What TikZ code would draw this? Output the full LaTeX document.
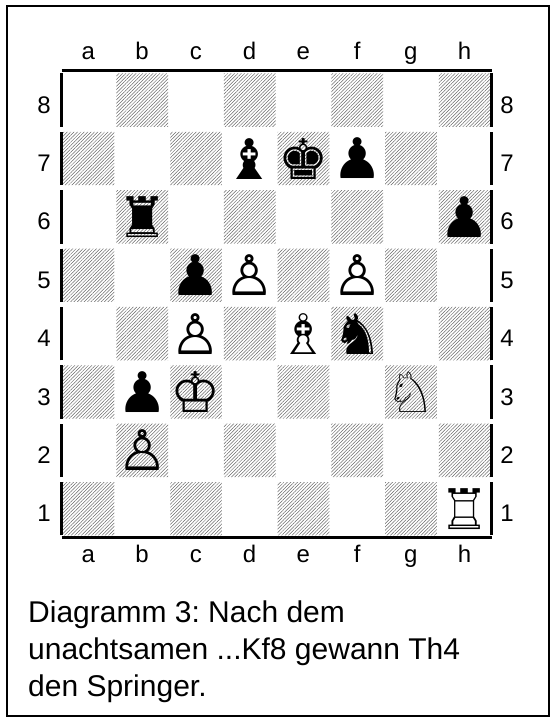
\documentclass[tikz,border=0pt]{standalone}
\usepackage{fontspec}
\setmainfont{Liberation Sans}
\newfontfamily\chessfont{DejaVu Sans}
\usepackage{xcolor}
\usepackage{tikz}
\usetikzlibrary{patterns.meta}
\definecolor{boardline}{RGB}{0,0,0}
\definecolor{hatchgray}{RGB}{105,105,105}
\frenchspacing
\tikzset{
  frm/.style  ={draw=boardline, line width=3pt, line cap=butt},
  box/.style  ={draw=boardline, line width=2pt},
  dsq/.style  ={pattern={Lines[angle=45,distance=2.4pt,line width=0.5pt]}, pattern color=hatchgray},
  lab/.style  ={font=\fontsize{24}{28}\selectfont, inner sep=0pt, anchor=base},
  pc/.style   ={font=\chessfont\fontsize{56}{56}\selectfont, inner sep=0pt},
  captxt/.style ={font=\fontsize{30}{36.7}\selectfont, inner sep=0pt, align=left, anchor=north west},
}
\begin{document}
\begin{tikzpicture}[x=1pt,y=1pt]
  \useasboundingbox (0,0) rectangle (555,722);
  \draw[box] (7,6) rectangle (549,716);
  % dark squares
  \fill[dsq] (62.5,186.5) rectangle (114.25,239.88) (170,186.5) rectangle (221.75,239.88) (277.5,186.5) rectangle (329.25,239.88) (385,186.5) rectangle (436.75,239.88);
  \fill[dsq] (116.25,244.88) rectangle (168,298.25) (223.75,244.88) rectangle (275.5,298.25) (331.25,244.88) rectangle (383,298.25) (438.75,244.88) rectangle (490.5,298.25);
  \fill[dsq] (62.5,303.25) rectangle (114.25,356.63) (170,303.25) rectangle (221.75,356.63) (277.5,303.25) rectangle (329.25,356.63) (385,303.25) rectangle (436.75,356.63);
  \fill[dsq] (116.25,361.63) rectangle (168,415) (223.75,361.63) rectangle (275.5,415) (331.25,361.63) rectangle (383,415) (438.75,361.63) rectangle (490.5,415);
  \fill[dsq] (62.5,420) rectangle (114.25,473.38) (170,420) rectangle (221.75,473.38) (277.5,420) rectangle (329.25,473.38) (385,420) rectangle (436.75,473.38);
  \fill[dsq] (116.25,478.38) rectangle (168,531.75) (223.75,478.38) rectangle (275.5,531.75) (331.25,478.38) rectangle (383,531.75) (438.75,478.38) rectangle (490.5,531.75);
  \fill[dsq] (62.5,536.75) rectangle (114.25,590.13) (170,536.75) rectangle (221.75,590.13) (277.5,536.75) rectangle (329.25,590.13) (385,536.75) rectangle (436.75,590.13);
  \fill[dsq] (116.25,595.13) rectangle (168,648.5) (223.75,595.13) rectangle (275.5,648.5) (331.25,595.13) rectangle (383,648.5) (438.75,595.13) rectangle (490.5,648.5);
  % board edge
  \draw[frm] (61.5,651) -- (491.5,651);
  \draw[frm] (61.5,184) -- (491.5,184);
  \draw[frm] (61.5,186.5) -- (61.5,239.88) (491.5,186.5) -- (491.5,239.88);
  \draw[frm] (61.5,244.88) -- (61.5,298.25) (491.5,244.88) -- (491.5,298.25);
  \draw[frm] (61.5,303.25) -- (61.5,356.63) (491.5,303.25) -- (491.5,356.63);
  \draw[frm] (61.5,361.63) -- (61.5,415) (491.5,361.63) -- (491.5,415);
  \draw[frm] (61.5,420) -- (61.5,473.38) (491.5,420) -- (491.5,473.38);
  \draw[frm] (61.5,478.38) -- (61.5,531.75) (491.5,478.38) -- (491.5,531.75);
  \draw[frm] (61.5,536.75) -- (61.5,590.13) (491.5,536.75) -- (491.5,590.13);
  \draw[frm] (61.5,595.13) -- (61.5,648.5) (491.5,595.13) -- (491.5,648.5);
  % files
  \node[lab] (ta) at (88.38,662) {a};   \node[lab] (ba) at (88.38,159) {a};
  \node[lab] (tb) at (142.13,662) {b};  \node[lab] (bb) at (142.13,159) {b};
  \node[lab] (tc) at (195.88,662) {c};  \node[lab] (bc) at (195.88,159) {c};
  \node[lab] (td) at (249.63,662) {d};  \node[lab] (bd) at (249.63,159) {d};
  \node[lab] (te) at (303.38,662) {e};  \node[lab] (be) at (303.38,159) {e};
  \node[lab] (tf) at (357.13,662) {f};  \node[lab] (bf) at (357.13,159) {f};
  \node[lab] (tg) at (410.88,662) {g};  \node[lab] (bg) at (410.88,159) {g};
  \node[lab] (th) at (464.63,662) {h};  \node[lab] (bh) at (464.63,159) {h};
  % ranks
  \node[lab] (l8) at (44,608.81) {8};  \node[lab] (r8) at (507,608.81) {8};
  \node[lab] (l7) at (44,550.44) {7};  \node[lab] (r7) at (507,550.44) {7};
  \node[lab] (l6) at (44,492.06) {6};  \node[lab] (r6) at (507,492.06) {6};
  \node[lab] (l5) at (44,433.69) {5};  \node[lab] (r5) at (507,433.69) {5};
  \node[lab] (l4) at (44,375.31) {4};  \node[lab] (r4) at (507,375.31) {4};
  \node[lab] (l3) at (44,316.94) {3};  \node[lab] (r3) at (507,316.94) {3};
  \node[lab] (l2) at (44,258.56) {2};  \node[lab] (r2) at (507,258.56) {2};
  \node[lab] (l1) at (44,200.19) {1};  \node[lab] (r1) at (507,200.19) {1};
  % black
  \node[pc] (bBd7) at (249.63,563.44) {♝};
  \node[pc] (bKe7) at (303.38,563.44) {♚};
  \node[pc] (bPf7) at (357.13,563.44) {♟};
  \node[pc] (bRb6) at (142.13,505.06) {♜};
  \node[pc] (bPh6) at (464.63,505.06) {♟};
  \node[pc] (bPc5) at (195.88,446.69) {♟};
  \node[pc] (bNf4) at (357.13,388.31) {♞};
  \node[pc] (bPb3) at (142.13,329.94) {♟};
  % white
  \node[pc] (wPd5) at (249.63,446.69) {♙};
  \node[pc] (wPf5) at (357.13,446.69) {♙};
  \node[pc] (wPc4) at (195.88,388.31) {♙};
  \node[pc] (wBe4) at (303.38,388.31) {♗};
  \node[pc] (wKc3) at (195.88,329.94) {♔};
  \node[pc] (wNg3) at (410.88,329.94) {♘};
  \node[pc] (wPb2) at (142.13,271.56) {♙};
  \node[pc] (wRh1) at (464.63,213.19) {♖};
  \node[captxt] (caption) at (28,121) {Diagramm 3: Nach dem\\unachtsamen ...Kf8 gewann Th4\\den Springer.};
\end{tikzpicture}
\end{document}
